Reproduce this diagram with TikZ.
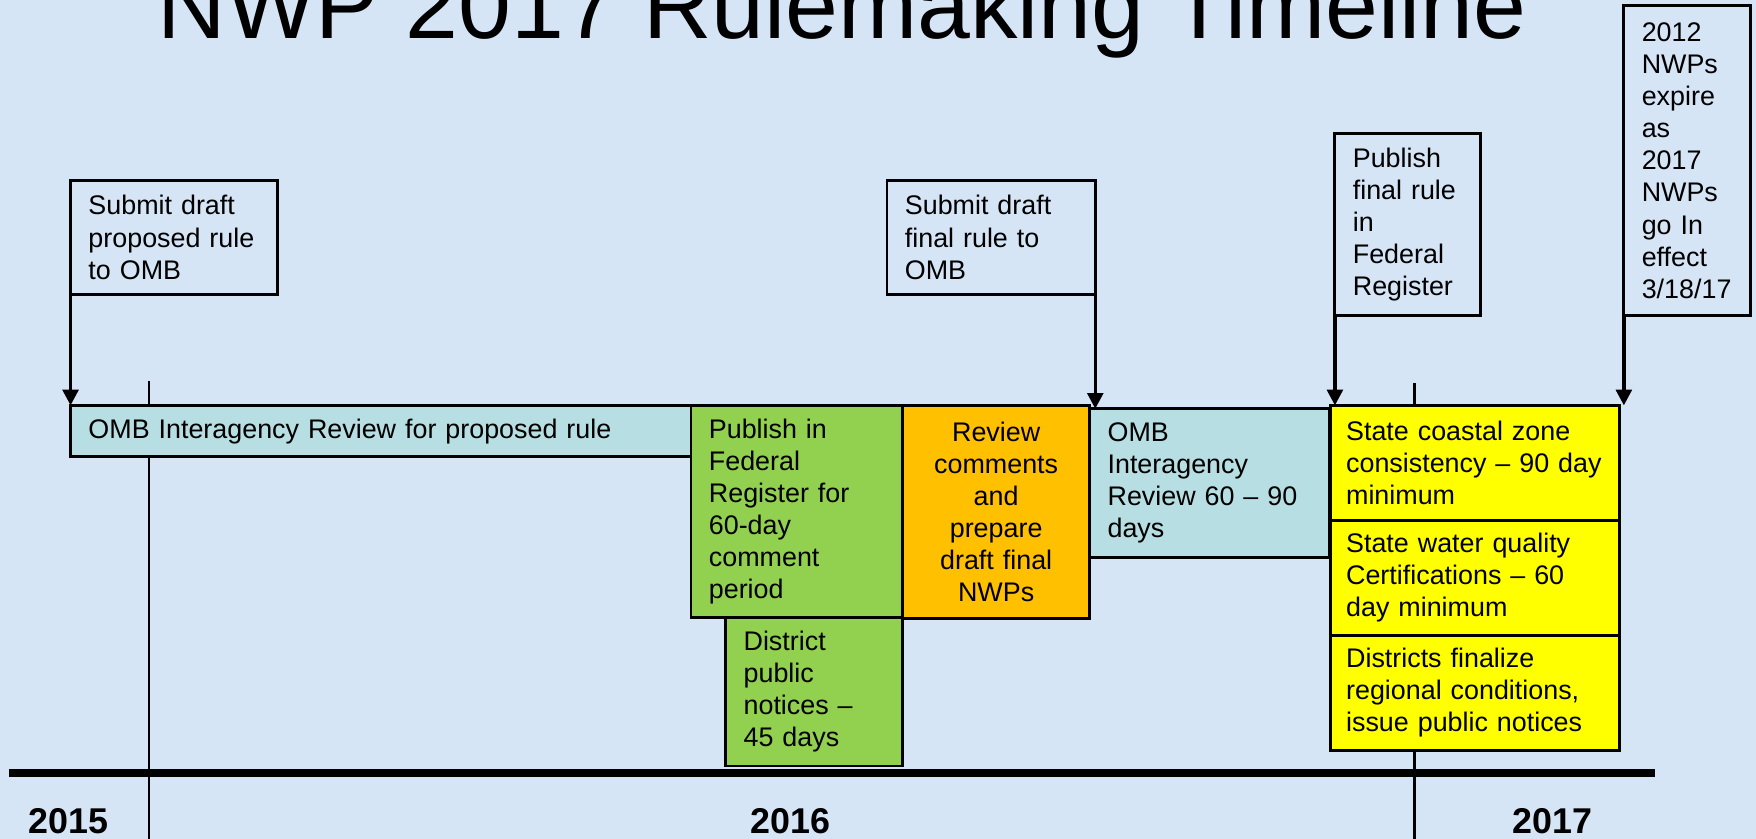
\documentclass[tikz,border=0pt]{standalone}
\usepackage{fontspec}
\setmainfont{Liberation Sans}
\usetikzlibrary{positioning,arrows.meta}

\definecolor{paper}{RGB}{214,229,246}
\definecolor{ombteal}{RGB}{183,222,226}
\definecolor{fedgreen}{RGB}{146,208,80}
\definecolor{revorange}{RGB}{255,192,0}
\definecolor{stateyellow}{RGB}{255,255,0}

\tikzset{
  timeline/.style={
    x=0.5pt, y=-0.5pt,
    every node/.style={font=\fontsize{12}{14.3}\selectfont,inner xsep=8pt,inner ysep=3pt,outer sep=0pt},
    phase/.style={
        draw,
        line width=1.3pt,
        align=left,
        anchor=north west,
    },
    state/.style={
        phase,
        fill=stateyellow,
        inner xsep=7pt,
        text width=115pt,
        minimum height=51.3pt,
    },
    flag/.style={line width=1.5pt,-{Triangle[width=7pt,length=7pt]}},
    yearline/.style={line width=1pt},
    year/.style={font=\fontsize{16}{20}\bfseries\selectfont,anchor=base}
  }
}

\begin{document}
\begin{tikzpicture}[timeline]
        \useasboundingbox (0,0) rectangle (1568,749);
        \clip (0,0) rectangle (1568,749);
        \fill[paper] (0,0) rectangle (1568,749);

        % title, cut by the top edge
        \node[font=\fontsize{42.4}{50}\selectfont,anchor=base,inner sep=0pt] (title) at (752,34)
            {NWP 2017 Rulemaking Timeline};

        % years and axis
        \draw[yearline] (133,340) -- (133,749);
        \draw[yearline] (1263,342) -- (1263,749);
        \draw[line width=3.5pt] (8,690) -- (1478,690);
        \node[year] (y2015) at (61,744) {2015};
        \node[year] (y2016) at (706,744) {2016};
        \node[year] (y2017) at (1386,744) {2017};

        % phases
        \node[phase,fill=ombteal,text width=261pt,minimum height=23pt] (omb1) at (63,362)
            {OMB Interagency Review for proposed rule};
        \node[phase,fill=fedgreen,text width=78.5pt,minimum height=94.5pt] (publish) at (omb1.north east)
            {Publish in\\Federal\\Register for\\60-day\\comment\\period};
        \node[phase,fill=fedgreen,text width=63pt,minimum height=66.5pt,anchor=north east] (district) at (publish.south east)
            {District\\public\\notices --\\45 days};
        \node[phase,fill=revorange,text width=67.5pt,minimum height=95pt,align=center] (review) at (publish.north east)
            {Review\\comments\\and\\prepare\\draft final\\NWPs};
        \node[phase,fill=ombteal,text width=91pt,minimum height=66.5pt] (omb2) at (973,365)
            {OMB\\Interagency\\Review 60 -- 90\\days};
        \node[state] (coastal) at (1188,362)
            {State coastal zone\\consistency -- 90 day\\minimum};
        \node[state,below=0pt of coastal] (water)
            {State water quality\\Certifications -- 60\\day minimum};
        \node[state,below=0pt of water] (regional)
            {Districts finalize\\regional conditions,\\issue public notices};

        % milestones
        \node[phase,text width=76.5pt,minimum height=51pt] (submitprop) at (63,161)
            {Submit draft\\proposed rule\\to OMB};
        \node[phase,text width=77pt,minimum height=51pt] (submitfinal) at (792,161)
            {Submit draft\\final rule to\\OMB};
        \node[phase,text width=49pt,minimum height=81.5pt] (pubfinal) at (1192,119)
            {Publish\\final rule\\in\\Federal\\Register};
        \node[phase,text width=40.5pt,minimum height=138.5pt] (expire) at (1450,5)
            {2012\\NWPs\\expire\\as\\2017\\NWPs\\go In\\effect\\3/18/17};

        \draw[flag] (submitprop.south west) -- (omb1.north west);
        \draw[flag] (submitfinal.south east) -- (submitfinal.south east |- omb2.north);
        \draw[flag] (pubfinal.south west) -- (pubfinal.south west |- coastal.north);
        \draw[flag] (expire.south west) -- (expire.south west |- coastal.north);
\end{tikzpicture}
\end{document}
